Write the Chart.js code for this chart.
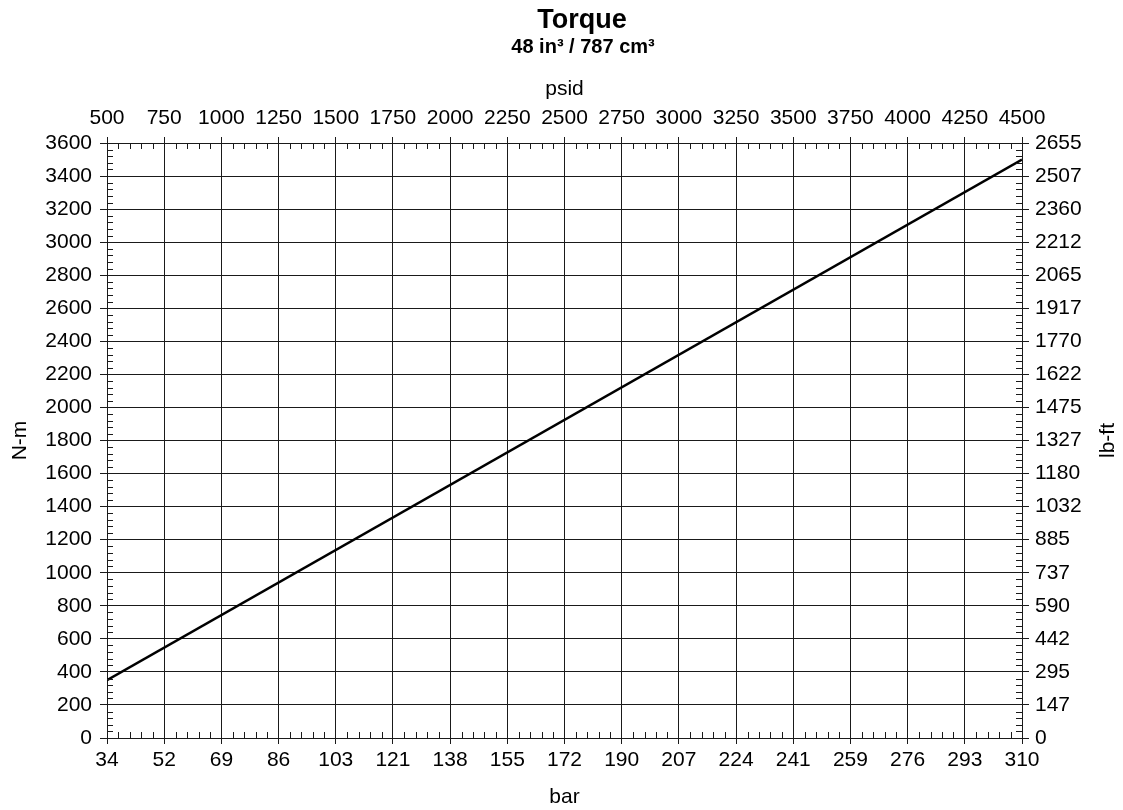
<!DOCTYPE html>
<html>
<head>
<meta charset="utf-8">
<title>Torque</title>
<script src="https://cdn.jsdelivr.net/npm/chart.js@4.4.1/dist/chart.umd.min.js"></script>
<style>
  html, body { margin: 0; padding: 0; background: #fff; }
  #wrap { width: 1123px; height: 810px; }
</style>
</head>
<body>
<div id="wrap"><canvas id="torqueChart" width="1123" height="810"></canvas></div>
<script>
// values
const pressurePsid = [500, 4500];
const torqueNm = [350, 3500];

// tick labels
const psidLabels = ['500', '750', '1000', '1250', '1500', '1750', '2000', '2250', '2500',
  '2750', '3000', '3250', '3500', '3750', '4000', '4250', '4500'];
const barLabels = ['34', '52', '69', '86', '103', '121', '138', '155', '172',
  '190', '207', '224', '241', '259', '276', '293', '310'];
const nmLabels = ['0', '200', '400', '600', '800', '1000', '1200', '1400', '1600', '1800',
  '2000', '2200', '2400', '2600', '2800', '3000', '3200', '3400', '3600'];
const lbftLabels = ['0', '147', '295', '442', '590', '737', '885', '1032', '1180', '1327',
  '1475', '1622', '1770', '1917', '2065', '2212', '2360', '2507', '2655'];

const FONT = '"Liberation Sans", Arial, Helvetica, sans-serif';
const INK = '#1a1a1a';

const points = pressurePsid.map((p, i) => ({ x: p, y: torqueNm[i] }));

// minor ticks, titles and the right axis title
const extras = {
  id: 'extras',
  afterDraw(chart) {
    const ctx = chart.ctx;
    const a = chart.chartArea;
    const sx = chart.scales.x;
    const sy = chart.scales.y;

    ctx.save();
    ctx.strokeStyle = INK;
    ctx.lineWidth = 1;
    ctx.beginPath();
    for (let v = 500; v <= 4500; v += 50) {
      if ((v - 500) % 250 === 0) continue;
      const px = Math.round(sx.getPixelForValue(v)) + 0.5;
      ctx.moveTo(px, a.bottom);
      ctx.lineTo(px, a.bottom - 6);
      ctx.moveTo(px, a.top);
      ctx.lineTo(px, a.top + 6);
    }
    for (let v = 0; v <= 3600; v += 40) {
      if (v % 200 === 0) continue;
      const py = Math.round(sy.getPixelForValue(v)) + 0.5;
      ctx.moveTo(a.left, py);
      ctx.lineTo(a.left + 6, py);
      ctx.moveTo(a.right, py);
      ctx.lineTo(a.right - 6, py);
    }
    ctx.stroke();

    ctx.fillStyle = '#000';
    ctx.textAlign = 'center';
    ctx.textBaseline = 'alphabetic';
    ctx.font = 'bold 27px ' + FONT;
    ctx.fillText('Torque', 582, 28);
    ctx.font = 'bold 20px ' + FONT;
    ctx.fillText('48 in³ / 787 cm³', 583, 53);

    ctx.font = '21px ' + FONT;
    ctx.textBaseline = 'middle';
    ctx.translate(1108, (a.top + a.bottom) / 2);
    ctx.rotate(-Math.PI / 2);
    ctx.fillText('lb-ft', 0, 0);
    ctx.restore();
  }
};

const tickFont = { family: FONT, size: 21 };
const titleFont = { family: FONT, size: 21 };

new Chart(document.getElementById('torqueChart'), {
  type: 'line',
  data: {
    datasets: [{
      label: 'Torque',
      data: points,
      borderColor: '#000',
      borderWidth: 2.5,
      pointRadius: 0,
      fill: false,
      tension: 0
    }]
  },
  options: {
    responsive: false,
    animation: false,
    layout: { padding: 0 },
    plugins: {
      legend: { display: false },
      title: { display: false },
      tooltip: { enabled: false }
    },
    scales: {
      x: {
        type: 'linear',
        position: 'bottom',
        min: 500, max: 4500,
        afterFit: s => { s.height = 72; },
        ticks: {
          stepSize: 250, autoSkip: false, maxRotation: 0,
          padding: 4, color: '#000', font: tickFont,
          callback: (v, i) => barLabels[i]
        },
        grid: { color: INK, lineWidth: 1, tickLength: 6, drawTicks: true },
        border: { display: true, color: INK, width: 1 },
        title: { display: true, text: 'bar', color: '#000', font: titleFont, padding: { top: 0, bottom: 0 } }
      },
      x2: {
        type: 'linear',
        position: 'top',
        min: 500, max: 4500,
        afterFit: s => { s.height = 143; },
        ticks: {
          stepSize: 250, autoSkip: false, maxRotation: 0,
          padding: 6, color: '#000', font: tickFont,
          callback: (v, i) => psidLabels[i]
        },
        grid: { drawOnChartArea: false, color: INK, tickLength: 6 },
        border: { display: true, color: INK, width: 1 },
        title: { display: true, text: 'psid', color: '#000', font: titleFont, padding: { top: 77, bottom: 0 } }
      },
      y: {
        type: 'linear',
        position: 'left',
        min: 0, max: 3600,
        afterFit: s => { s.width = 107; },
        ticks: {
          stepSize: 200, autoSkip: false, padding: 8, color: '#000', font: tickFont,
          callback: (v, i) => nmLabels[i]
        },
        grid: { color: INK, lineWidth: 1, tickLength: 7 },
        border: { display: true, color: INK, width: 1 },
        title: { display: true, text: 'N-m', color: '#000', font: titleFont, padding: { top: 8, bottom: 0 } }
      },
      y2: {
        type: 'linear',
        position: 'right',
        min: 0, max: 3600,
        afterFit: s => { s.width = 101; },
        ticks: {
          stepSize: 200, autoSkip: false, padding: 6, color: '#000', font: tickFont,
          callback: (v, i) => lbftLabels[i]
        },
        grid: { drawOnChartArea: false, color: INK, tickLength: 7 },
        border: { display: true, color: INK, width: 1 }
      }
    }
  },
  plugins: [extras]
});
</script>
</body>
</html>
